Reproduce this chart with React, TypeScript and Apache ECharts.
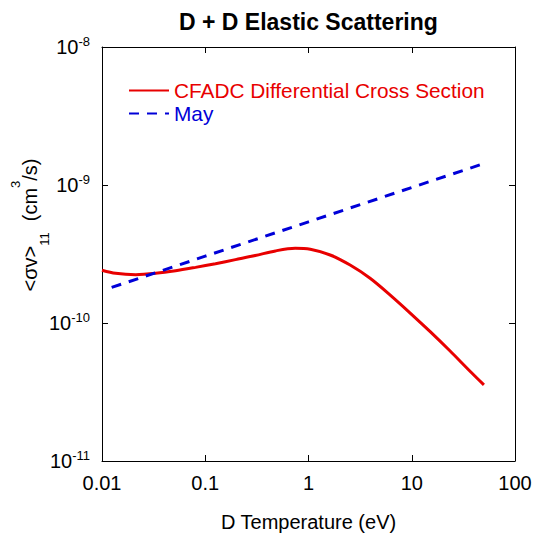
import React, { useEffect, useRef } from "react";
import * as echarts from "echarts";

const redName = "CFADC Differential Cross Section";
const blueName = "May";

// D temperature (eV) and <sigma v>_11 (cm^3/s)
const redT = [0.01, 0.01355, 0.0212, 0.0331, 0.0516, 0.0805, 0.1256, 0.196, 0.305, 0.478, 0.743, 1.04, 1.62, 2.53, 3.95, 6.15, 9.6, 15.0, 23.4, 36.5, 50];
const redV = [2.41e-10, 2.29e-10, 2.24e-10, 2.29e-10, 2.39e-10, 2.53e-10, 2.69e-10, 2.88e-10, 3.08e-10, 3.33e-10, 3.48e-10, 3.42e-10, 3.11e-10, 2.63e-10, 2.11e-10, 1.6e-10, 1.186e-10, 8.69e-11, 6.29e-11, 4.49e-11, 3.56e-11];

const blueT = [0.0124, 0.1, 1, 10, 50];
const blueV = [1.81e-10, 3.05e-10, 5.41e-10, 9.59e-10, 1.43e-9];

const xTickLabels = ["0.01", "0.1", "1", "10", "100"];
const yTickExponents = ["-11", "-10", "-9", "-8"];

const RED = "#e80000";
const BLUE = "#0000d8";
const FONT = "'Liberation Sans', Arial, sans-serif";

export default function App() {
  const ref = useRef<HTMLDivElement>(null);
  useEffect(() => {
    if (!ref.current) return;
    const chart = echarts.init(ref.current, undefined, { renderer: "svg" });
    const baseAxis = {
      type: "log" as const,
      logBase: 10,
      axisLine: { show: true, lineStyle: { color: "#000", width: 1 } },
      axisTick: { show: true, inside: true, length: 6, lineStyle: { color: "#000", width: 1 } },
      minorTick: { show: false },
      splitLine: { show: false },
    };
    chart.setOption({
      animation: false,
      backgroundColor: "#fff",
      textStyle: { fontFamily: FONT },
      title: {
        text: "D + D Elastic Scattering",
        left: 179,
        top: 10,
        padding: 0,
        textStyle: { fontFamily: FONT, fontWeight: "bold", fontSize: 23, color: "#000" },
      },
      grid: { left: 102, right: 22, top: 47, bottom: 78, containLabel: false, outerBoundsMode: "none" },
      legend: {
        orient: "vertical",
        left: 128,
        top: 80,
        padding: 0,
        itemWidth: 40,
        itemHeight: 14,
        itemGap: 2,
        itemStyle: { opacity: 0 },
        textStyle: { fontFamily: FONT, fontSize: 20.8, lineHeight: 21 },
        data: [
          { name: redName, textStyle: { color: RED } },
          { name: blueName, textStyle: { color: BLUE } },
        ],
      },
      xAxis: [
        {
          ...baseAxis,
          position: "bottom",
          min: 0.01,
          max: 100,
          name: "D Temperature (eV)",
          nameLocation: "middle",
          nameGap: 51,
          nameTextStyle: { fontFamily: FONT, fontSize: 20, color: "#000" },
          axisLabel: {
            margin: 12,
            fontFamily: FONT,
            fontSize: 20,
            color: "#000",
            formatter: (v: number) => xTickLabels[Math.round(Math.log10(v)) + 2] ?? "",
          },
        },
        {
          ...baseAxis,
          position: "top",
          min: 0.01,
          max: 100,
          axisLabel: { show: false },
        },
      ],
      yAxis: [
        {
          ...baseAxis,
          position: "left",
          min: 1e-11,
          max: 1e-8,
          axisLabel: {
            margin: 12,
            color: "#000",
            fontFamily: FONT,
            formatter: (v: number) => `{b|10}{s|${yTickExponents[Math.round(Math.log10(v)) + 11] ?? ""}}`,
            rich: {
              b: { fontSize: 20, lineHeight: 24, fontFamily: FONT, color: "#000" },
              s: { fontSize: 13, lineHeight: 13, verticalAlign: "top", fontFamily: FONT, color: "#000" },
            },
          },
        },
        {
          ...baseAxis,
          position: "right",
          min: 1e-11,
          max: 1e-8,
          axisLabel: { show: false },
        },
      ],
      graphic: [
        {
          type: "text",
          x: 30,
          y: 225,
          rotation: Math.PI / 2,
          style: {
            text: "{m|<σv>}{sub|11}{m|  (cm}{sup|3}{m|/s)}",
            align: "center",
            verticalAlign: "middle",
            fill: "#000",
            rich: {
              m: { fontSize: 20, lineHeight: 42, fontFamily: FONT, color: "#000" },
              sub: { fontSize: 13, lineHeight: 13, verticalAlign: "bottom", fontFamily: FONT, color: "#000" },
              sup: { fontSize: 13, lineHeight: 19, verticalAlign: "top", fontFamily: FONT, color: "#000" },
            },
          },
        },
      ],
      series: [
        {
          name: redName,
          type: "line",
          xAxisIndex: 0,
          yAxisIndex: 0,
          data: redT.map((t, i) => [t, redV[i]]),
          symbol: "none",
          smooth: 0.3,
          lineStyle: { color: RED, width: 3 },
          itemStyle: { color: RED },
        },
        {
          name: blueName,
          type: "line",
          xAxisIndex: 0,
          yAxisIndex: 0,
          data: blueT.map((t, i) => [t, blueV[i]]),
          symbol: "none",
          lineStyle: { color: BLUE, width: 3, type: [10, 8] },
          itemStyle: { color: BLUE },
        },
      ],
    });
    return () => chart.dispose();
  }, []);
  return <div ref={ref} style={{ position: "fixed", left: 0, top: 0, width: 537, height: 539 }} />;
}
